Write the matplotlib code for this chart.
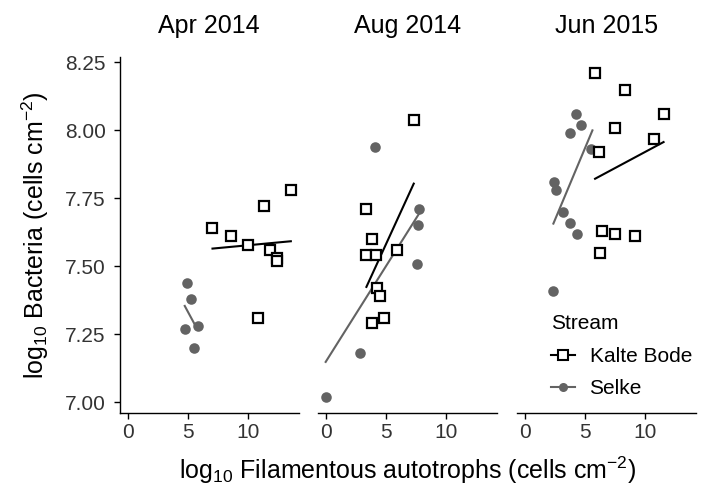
import numpy as np
import matplotlib.pyplot as plt
from matplotlib.lines import Line2D

plt.rcParams['font.family'] = ['Liberation Sans', 'DejaVu Sans']
plt.rcParams['mathtext.fontset'] = 'custom'
plt.rcParams['mathtext.rm'] = 'Liberation Sans'
plt.rcParams['mathtext.it'] = 'Liberation Sans'

panels = ['Apr 2014', 'Aug 2014', 'Jun 2015']

# Kalte Bode (open squares)
kb_x = [[7.06, 8.64, 10.03, 11.36, 11.86, 12.42, 12.47, 13.58, 10.81],
        [7.33, 3.33, 3.86, 3.33, 4.17, 5.97, 4.28, 4.56, 3.89, 4.83],
        [5.83, 8.33, 11.56, 7.50, 10.78, 6.17, 6.47, 7.53, 9.19, 6.25]]
kb_y = [[7.64, 7.61, 7.58, 7.72, 7.56, 7.53, 7.52, 7.78, 7.31],
        [8.04, 7.71, 7.60, 7.54, 7.54, 7.56, 7.42, 7.39, 7.29, 7.31],
        [8.21, 8.15, 8.06, 8.01, 7.97, 7.92, 7.63, 7.62, 7.61, 7.55]]

# Selke (grey circles)
se_x = [[4.92, 5.31, 4.78, 5.89, 5.53],
        [4.08, 7.78, 7.69, 7.61, 2.83, 0.00],
        [4.25, 4.67, 3.78, 5.56, 2.44, 2.58, 3.22, 3.75, 4.39, 2.36]]
se_y = [[7.44, 7.38, 7.27, 7.28, 7.20],
        [7.94, 7.71, 7.65, 7.51, 7.18, 7.02],
        [8.06, 8.02, 7.99, 7.93, 7.81, 7.78, 7.70, 7.66, 7.62, 7.41]]

# fitted lines (end points)
kb_fit_x = [[7.06, 13.58], [3.39, 7.33], [5.86, 11.56]]
kb_fit_y = [[7.565, 7.592], [7.424, 7.804], [7.822, 7.957]]
se_fit_x = [[4.75, 5.58], [0.00, 7.78], [2.39, 5.64]]
se_fit_y = [[7.354, 7.286], [7.148, 7.694], [7.657, 8.000]]

grey = '#636363'
tick_col = '#333333'

fig = plt.figure(figsize=(7.01, 4.87), dpi=100)
W, H = 701, 487
lefts = [119.5, 317.5, 516.5]
width = 179.5
bottom, top = 413, 57

axes = []
for i in range(3):
    ax = fig.add_axes([lefts[i] / W, (H - bottom) / H, width / W, (bottom - top) / H])
    axes.append(ax)
    ax.plot(se_fit_x[i], se_fit_y[i], color=grey, lw=1.5)
    ax.plot(kb_fit_x[i], kb_fit_y[i], color='black', lw=1.5)
    ax.plot(se_x[i], se_y[i], 'o', color=grey, ms=7.6, mec='none')
    ax.plot(kb_x[i], kb_y[i], 's', mfc='white', mec='black', mew=1.6, ms=7.4, ls='none')
    ax.set_xlim(-0.68, 14.26)
    ax.set_ylim(6.96, 8.27)
    ax.set_xticks([0, 5, 10])
    ax.set_yticks([7.00, 7.25, 7.50, 7.75, 8.00, 8.25])
    ax.yaxis.set_major_formatter(plt.FormatStrFormatter('%.2f'))
    for s in ['top', 'right']:
        ax.spines[s].set_visible(False)
    ax.spines['bottom'].set_linewidth(1.0)
    ax.spines['left'].set_linewidth(1.0)
    ax.tick_params(length=4, width=1.0, labelsize=15, labelcolor=tick_col, pad=3)
    ax.tick_params(axis='y', pad=6)
    if i > 0:
        ax.spines['left'].set_visible(False)
        ax.tick_params(axis='y', left=False, labelleft=False)
    ax.set_title(panels[i], fontsize=18, pad=17)

axes[0].set_ylabel('log$_{10}$ Bacteria (cells cm$^{-2}$)', fontsize=18, labelpad=10)
fig.text(0.582, 0.035, 'log$_{10}$ Filamentous autotrophs (cells cm$^{-2}$)',
         fontsize=18, ha='center', va='center')

handles = [Line2D([], [], color='black', marker='s', mfc='white', mec='black', mew=1.5, ms=6.5, lw=1.5),
           Line2D([], [], color=grey, marker='o', mec='none', ms=6.5, lw=1.5)]
leg = axes[2].legend(handles, ['Kalte Bode', 'Selke'], title='Stream', frameon=False,
                     fontsize=15, title_fontsize=15, loc='upper left',
                     bbox_to_anchor=(551 / W, (H - 314) / H), bbox_transform=fig.transFigure,
                     handlelength=1.15, handletextpad=0.7, labelspacing=0.65, borderaxespad=0,
                     borderpad=0)
leg._legend_box.align = 'left'
leg._legend_box.sep = 10

plt.savefig('out.png', dpi=100)
